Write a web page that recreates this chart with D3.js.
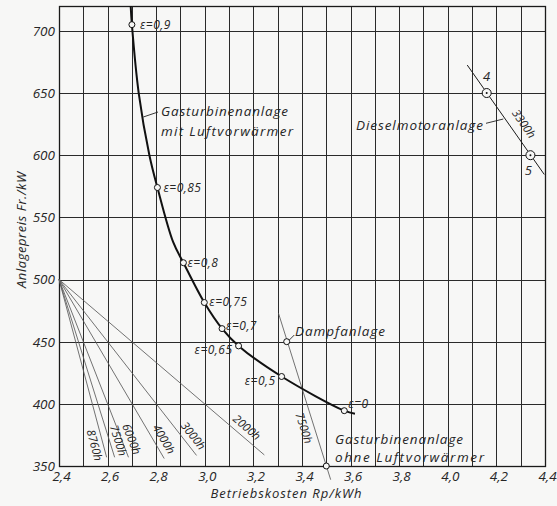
<!DOCTYPE html>
<html>
<head>
<meta charset="utf-8">
<script src="https://cdn.jsdelivr.net/npm/d3@7"></script>
<style>
  html, body { margin: 0; padding: 0; background: #f7f7f6; }
  svg { display: block; }
  text { font-family: "Open Sans", "DejaVu Sans", sans-serif; font-style: italic; fill: #262626; }
</style>
</head>
<body>
<svg id="chart" width="557" height="506"></svg>
<script>
// Axis ticks
const xTicks = [2.4, 2.6, 2.8, 3.0, 3.2, 3.4, 3.6, 3.8, 4.0, 4.2, 4.4];
const yTicks = [350, 400, 450, 500, 550, 600, 650, 700];
const xGrid = [2.5, 2.6, 2.7, 2.8, 2.9, 3.0, 3.1, 3.2, 3.3, 3.4, 3.5, 3.6, 3.7, 3.8, 3.9, 4.0, 4.1, 4.2, 4.3];

// Gas turbine plant with air preheater: operating cost vs. plant price
const curveCost  = [2.695, 2.700, 2.728, 2.772, 2.805, 2.870, 2.912, 2.998, 3.071, 3.139, 3.316, 3.574, 3.618];
const curvePrice = [720,   705,   650,   600,   574,   530,   513.5, 481.5, 460.5, 446.6, 422,   394.5, 392];

// Marked regenerator effectiveness values on the curve
const epsLabels = ["ε=0,9", "ε=0,85", "ε=0,8", "ε=0,75", "ε=0,7", "ε=0,65", "ε=0,5", "ε=0"];
const epsCost   = [2.700, 2.805, 2.912, 2.998, 3.071, 3.139, 3.316, 3.574];
const epsPrice  = [705,   574,   513.5, 481.5, 460.5, 446.6, 422,   394.5];

// Lines of equal annual cost from (2.4 Rp/kWh, 500 Fr/kW) for several utilisation hours
const hourLabels   = ["8760h", "7500h", "6000h", "4000h", "3000h", "2000h"];
const hourEndCost  = [2.596, 2.629, 2.686, 2.833, 2.966, 3.245];
const hourEndPrice = [357,   357,   357,   356,   358.5, 358.9];
const fanOriginCost = 2.4, fanOriginPrice = 500;

// Steam plant and gas turbine without preheater, 7500 h line
const steamLineCost  = [3.303, 3.518];
const steamLinePrice = [473,   339];
const steamPointCost  = [3.337, 3.500];
const steamPointPrice = [450,   350];

// Diesel engine plant, 3300 h line with points 4 and 5
const dieselLineCost  = [4.080, 4.397];
const dieselLinePrice = [672.5, 584.5];
const dieselPointLabels = ["4", "5"];
const dieselPointCost   = [4.160, 4.340];
const dieselPointPrice  = [650,   600];

const svg = d3.select("#chart");
const x = d3.scaleLinear().domain([2.4, 4.4]).range([59, 545]);
const y = d3.scaleLinear().domain([350, 720]).range([466, 6]);
const comma = d => d3.format(".1f")(d).replace(".", ",");
const BG = "#f7f7f6";

// Grid
const grid = svg.append("g").attr("stroke", "#2a2a2a").attr("stroke-width", 1).attr("shape-rendering", "crispEdges");
grid.selectAll(".vx").data(xGrid).join("line")
  .attr("x1", d => Math.round(x(d)) + 0.5).attr("x2", d => Math.round(x(d)) + 0.5)
  .attr("y1", y(720)).attr("y2", y(350));
grid.selectAll(".hy").data(yTicks.filter(d => d > 350)).join("line")
  .attr("x1", x(2.4)).attr("x2", x(4.4))
  .attr("y1", d => Math.round(y(d)) + 0.5).attr("y2", d => Math.round(y(d)) + 0.5);
svg.append("rect")
  .attr("x", x(2.4) + 0.5).attr("y", y(720) + 0.5)
  .attr("width", x(4.4) - x(2.4)).attr("height", y(350) - y(720))
  .attr("fill", "none").attr("stroke", "#1a1a1a").attr("stroke-width", 1.3);

// Axes (labels only; the frame is drawn above)
const xAxis = svg.append("g").attr("transform", `translate(0,${y(350)})`)
  .call(d3.axisBottom(x).tickValues(xTicks).tickSize(0).tickPadding(5).tickFormat(comma));
xAxis.select(".domain").remove();
xAxis.selectAll("text").attr("font-size", 13.5).attr("dx", 2).style("font-family", null);

const yAxis = svg.append("g").attr("transform", `translate(${x(2.4)},0)`)
  .call(d3.axisLeft(y).tickValues(yTicks).tickSize(0).tickPadding(4));
yAxis.select(".domain").remove();
yAxis.selectAll("text").attr("font-size", 13.5).style("font-family", null);

svg.append("text").attr("x", 286).attr("y", 498).attr("text-anchor", "middle")
  .attr("font-size", 13).attr("textLength", 151).text("Betriebskosten  Rp/kWh");
svg.append("text").attr("transform", "translate(26,230) rotate(-90)").attr("text-anchor", "middle")
  .attr("font-size", 13).attr("textLength", 116).text("Anlagepreis  Fr./kW");

// Point on a straight line at screen height py, shifted by d px along the text's "up" normal
function alongLine(c0, p0, c1, p1, py, d) {
  const x0 = x(c0), y0 = y(p0), x1 = x(c1), y1 = y(p1);
  const px = x0 + (py - y0) * (x1 - x0) / (y1 - y0);
  const a = Math.atan2(y1 - y0, x1 - x0);
  return [px + d * Math.sin(a), py - d * Math.cos(a), a * 180 / Math.PI];
}

// Fan of equal-cost lines
const fan = svg.append("g").attr("stroke", "#5a5a5a").attr("stroke-width", 0.85);
fan.selectAll("line").data(hourLabels).join("line")
  .attr("x1", x(fanOriginCost)).attr("y1", y(fanOriginPrice))
  .attr("x2", (d, i) => x(hourEndCost[i])).attr("y2", (d, i) => y(hourEndPrice[i]));

// Label placement for the fan lines: [screen height along the line, side offset]
const fanLabelPos = [[443, -8.5], [443, 8.5], [442.6, 9.5], [444, 9.5], [441.6, 9.5], [434.6, 9.5]];
svg.append("g").selectAll("text").data(hourLabels).join("text")
  .attr("font-size", 11.5).attr("text-anchor", "middle").attr("dy", "0.35em")
  .attr("transform", (d, i) => {
    const p = alongLine(fanOriginCost, fanOriginPrice, hourEndCost[i], hourEndPrice[i], fanLabelPos[i][0], fanLabelPos[i][1]);
    return `translate(${p[0]},${p[1]}) rotate(${p[2]})`;
  })
  .text(d => d);

// Steam plant line
svg.append("line")
  .attr("x1", x(steamLineCost[0])).attr("y1", y(steamLinePrice[0]))
  .attr("x2", x(steamLineCost[1])).attr("y2", y(steamLinePrice[1]))
  .attr("stroke", "#5a5a5a").attr("stroke-width", 0.85);
{
  const p = alongLine(steamLineCost[0], steamLinePrice[0], steamLineCost[1], steamLinePrice[1], 425, -10);
  svg.append("text").attr("font-size", 11.5).attr("text-anchor", "middle").attr("dy", "0.35em")
    .attr("transform", `translate(${p[0]},${p[1]}) rotate(${p[2]})`).text("7500h");
}

// Diesel line
svg.append("line")
  .attr("x1", x(dieselLineCost[0])).attr("y1", y(dieselLinePrice[0]))
  .attr("x2", x(dieselLineCost[1])).attr("y2", y(dieselLinePrice[1]))
  .attr("stroke", "#1a1a1a").attr("stroke-width", 1);
{
  const p = alongLine(dieselLineCost[0], dieselLinePrice[0], dieselLineCost[1], dieselLinePrice[1], 131, 12.5);
  svg.append("text").attr("font-size", 11.5).attr("text-anchor", "middle").attr("dy", "0.35em")
    .attr("transform", `translate(${p[0]},${p[1]}) rotate(${p[2]})`).text("3300h");
}

// Main curve
const curvePts = curveCost.map((c, i) => [c, curvePrice[i]]);
svg.append("path").datum(curvePts)
  .attr("d", d3.line().x(d => x(d[0])).y(d => y(d[1])).curve(d3.curveCatmullRom.alpha(0.5)))
  .attr("fill", "none").attr("stroke", "#111").attr("stroke-width", 2);

// Effectiveness markers and labels
svg.append("g").selectAll("circle").data(epsLabels).join("circle")
  .attr("cx", (d, i) => x(epsCost[i])).attr("cy", (d, i) => y(epsPrice[i])).attr("r", 3)
  .attr("fill", BG).attr("stroke", "#111").attr("stroke-width", 1);
const epsOffset = [[8, 4, "start"], [6, 4, "start"], [4, 4, "start"], [5, 3, "start"], [4, 1, "start"], [-6, 8, "end"], [-6, 9, "end"], [4, -3, "start"]];
svg.append("g").selectAll("text").data(epsLabels).join("text")
  .attr("font-size", 12).attr("letter-spacing", 0.5)
  .attr("x", (d, i) => x(epsCost[i]) + epsOffset[i][0])
  .attr("y", (d, i) => y(epsPrice[i]) + epsOffset[i][1])
  .attr("text-anchor", (d, i) => epsOffset[i][2])
  .text(d => d);

// Steam / gas turbine points
svg.append("g").selectAll("circle").data(steamPointCost).join("circle")
  .attr("cx", d => x(d)).attr("cy", (d, i) => y(steamPointPrice[i])).attr("r", 3)
  .attr("fill", BG).attr("stroke", "#111").attr("stroke-width", 1);

// Diesel points (circled dot)
const dp = svg.append("g").selectAll("g").data(dieselPointLabels).join("g")
  .attr("transform", (d, i) => `translate(${x(dieselPointCost[i])},${y(dieselPointPrice[i])})`);
dp.append("circle").attr("r", 4.5).attr("fill", BG).attr("stroke", "#111").attr("stroke-width", 1);
dp.append("circle").attr("r", 1).attr("fill", "#111");
const dLabOff = [[0, -12], [-2, 20]];
dp.append("text").attr("font-size", 13).attr("text-anchor", "middle")
  .attr("x", (d, i) => dLabOff[i][0]).attr("y", (d, i) => dLabOff[i][1]).text(d => d);

// Annotations with leader lines
const leaders = [
  [[143.3, 117], [158, 112]],
  [[289.3, 340], [294.3, 335]],
  [[486, 123.3], [503.3, 119]]
];
svg.append("g").selectAll("line").data(leaders).join("line")
  .attr("x1", d => d[0][0]).attr("y1", d => d[0][1]).attr("x2", d => d[1][0]).attr("y2", d => d[1][1])
  .attr("stroke", "#222").attr("stroke-width", 0.9);

const notes = [
  ["Gasturbinenanlage", 161, 116, 127],
  ["mit  Luftvorwärmer", 161, 135.5, 132],
  ["Dampfanlage", 295, 336, 90],
  ["Gasturbinenanlage", 335, 443.5, 128],
  ["ohne  Luftvorwärmer", 335, 461.5, 149],
  ["Dieselmotoranlage", 356, 130, 127]
];
svg.append("g").selectAll("text").data(notes).join("text")
  .attr("font-size", 13.5).attr("x", d => d[1]).attr("y", d => d[2])
  .attr("textLength", d => d[3]).attr("lengthAdjust", "spacing")
  .text(d => d[0]);
</script>
</body>
</html>
